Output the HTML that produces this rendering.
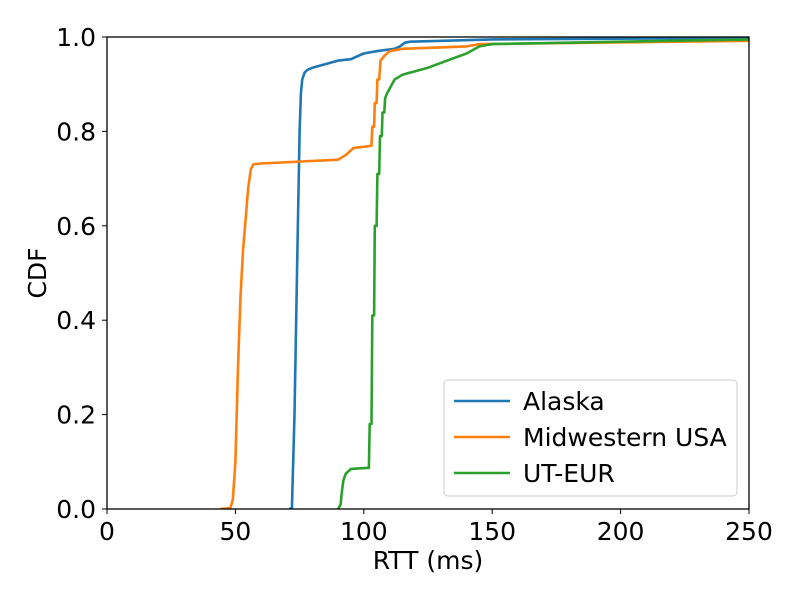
<!DOCTYPE html>
<html><head><meta charset="utf-8"><style>
body{margin:0;background:#fff;}
svg text{font-family:"DejaVu Sans","Liberation Sans",sans-serif;fill:#000;}
</style></head><body>
<svg id="chart" width="800" height="600">
<rect width="800" height="600" fill="#fff"/>
<g id="plot"></g>
</svg>
<script>
const xTicks=[0,50,100,150,200,250];
const yTicks=[0,0.2,0.4,0.6,0.8,1.0];
const seriesNames=["Alaska","Midwestern USA","UT-EUR"];
const seriesColors=["#1f77b4","#ff7f0e","#2ca02c"];
const alaskaX=[71,72,73,74,75,75.5,76,77,78,80,90,95,97,100,105,112,114,116,118,150,250];
const alaskaY=[0,0.002,0.2,0.5,0.8,0.88,0.91,0.925,0.93,0.935,0.95,0.953,0.958,0.965,0.97,0.975,0.98,0.988,0.99,0.995,0.998];
const midwestX=[44,48,49,50,51,52,53,55,56,57,60,90,93,96,101,103,103.3,104,104.3,105,105.3,106,106.5,108,110,115,140,145,250];
const midwestY=[0,0.002,0.02,0.1,0.3,0.45,0.55,0.68,0.72,0.73,0.732,0.74,0.75,0.765,0.768,0.77,0.81,0.81,0.86,0.86,0.91,0.91,0.95,0.96,0.97,0.975,0.98,0.985,0.992];
const euX=[90,91,91.3,92,93,95,101,102,102.3,103,103.3,104,104.3,105,105.3,106,106.3,107,107.3,108,108.3,109,110,112,115,125,135,140,145,150,200,250];
const euY=[0,0.01,0.03,0.06,0.075,0.085,0.087,0.087,0.18,0.18,0.41,0.41,0.6,0.6,0.71,0.71,0.79,0.79,0.84,0.84,0.87,0.88,0.89,0.91,0.92,0.935,0.955,0.965,0.98,0.985,0.99,0.995];

const L=107,R=749,T=37,B=509;
const sx=v=>L+(v-0)/250*(R-L);
const sy=v=>B-v*(B-T);
const NS="http://www.w3.org/2000/svg";
const g=document.getElementById('plot');
function mk(tag,attrs,parent){const e=document.createElementNS(NS,tag);for(const k in attrs)e.setAttribute(k,attrs[k]);(parent||g).appendChild(e);return e;}

const clip=mk('clipPath',{id:'clipArea'});mk('rect',{x:L,y:T-2,width:R-L,height:B-T+2},clip);
const data=[[alaskaX,alaskaY],[midwestX,midwestY],[euX,euY]];
data.forEach((d,i)=>{
  const pts=d[0].map((x,j)=>sx(x).toFixed(1)+','+sy(d[1][j]).toFixed(1)).join(' ');
  const pl=mk('polyline',{points:pts,fill:'none',stroke:seriesColors[i],'stroke-width':2.6,'stroke-linejoin':'round','clip-path':'url(#clipArea)'});
  
  
});
const frame=mk('rect',{x:L,y:T,width:R-L,height:B-T,fill:'none',stroke:'#000','stroke-width':1.3});


xTicks.forEach(t=>{
  mk('line',{x1:sx(t),x2:sx(t),y1:B,y2:B+5,stroke:'#000','stroke-width':1});
  const tx=mk('text',{x:sx(t),y:B+31,'text-anchor':'middle','font-size':25});
  tx.textContent=t;
  
  
});
yTicks.forEach(t=>{
  mk('line',{x1:L-5,x2:L,y1:sy(t),y2:sy(t),stroke:'#000','stroke-width':1});
  const tx=mk('text',{x:L-11,y:sy(t)+9,'text-anchor':'end','font-size':25});
  tx.textContent=t.toFixed(1);
  
  
});
const xt=mk('text',{x:(L+R)/2,y:569,'text-anchor':'middle','font-size':25});
xt.textContent='RTT (ms)';


const yt=mk('text',{x:0,y:0,'text-anchor':'middle','font-size':25,transform:`translate(46,${(T+B)/2}) rotate(-90)`});
yt.textContent='CDF';


const lg=mk('g',{});


mk('rect',{x:444,y:380,width:293,height:116,rx:4,fill:'#fff',stroke:'#ccc','stroke-width':1},lg);
seriesNames.forEach((n,i)=>{
  const y=401+i*36;
  const ln=mk('line',{x1:454,x2:510,y1:y,y2:y,stroke:seriesColors[i],'stroke-width':2.6},lg);
  
  
  const tx=mk('text',{x:523,y:y+9,'font-size':25},lg);
  tx.textContent=n;
  
  
});
</script>
</body></html>
